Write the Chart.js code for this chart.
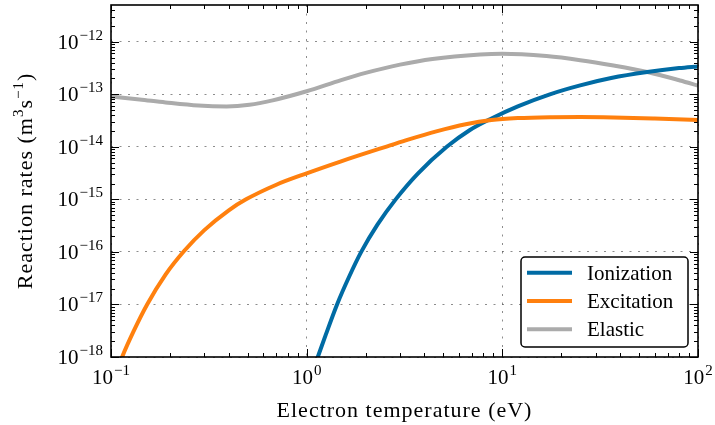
<!DOCTYPE html>
<html>
<head>
<meta charset="utf-8">
<script src="https://cdn.jsdelivr.net/npm/chart.js@4.4.0/dist/chart.umd.min.js"></script>
<style>
  body { margin: 0; background: #fff; }
  #wrap { width: 715px; height: 425px; }
</style>
</head>
<body>
<div id="wrap"><canvas id="myChart" width="715" height="425"></canvas></div>
<script>
// electron temperature (eV) and rate coefficients (m^3 s^-1)
const ionT    = [1.1, 1.14, 1.25, 1.43, 1.65, 1.9, 2.3, 2.85, 3.7, 5.2, 6.8, 8.8, 12, 17.5, 25, 36, 55, 80, 100];
const ionRate = [6.9e-19, 1e-18, 2.6e-18, 1e-17, 3.4e-17, 1e-16, 3.3e-16, 1e-15, 3.1e-15, 1e-14, 2.07e-14, 3.47e-14, 5.9e-14, 1e-13, 1.48e-13, 2.04e-13, 2.65e-13, 3.15e-13, 3.39e-13];

const excT    = [0.11, 0.114, 0.13, 0.153, 0.19, 0.237, 0.3, 0.4, 0.49, 0.7, 1, 1.5, 2.1, 2.56, 3.3, 4.6, 6.5, 8.8, 12, 18, 25, 37, 60, 100];
const excRate = [7e-19, 1e-18, 3e-18, 1e-17, 3.7e-17, 1.05e-16, 2.6e-16, 6.2e-16, 1e-15, 1.9e-15, 3.13e-15, 5.3e-15, 8.0e-15, 1.01e-14, 1.37e-14, 1.97e-14, 2.69e-14, 3.23e-14, 3.52e-14, 3.67e-14, 3.7e-14, 3.63e-14, 3.46e-14, 3.25e-14];

const elaT    = [0.1, 0.14, 0.19, 0.28, 0.39, 0.51, 0.67, 1, 1.5, 2, 3, 4.4, 7.7, 10, 16.8, 25, 37, 55, 81, 100];
const elaRate = [9.1e-14, 7.98e-14, 7.0e-14, 6.1e-14, 5.86e-14, 6.3e-14, 7.66e-14, 1.14e-13, 1.86e-13, 2.55e-13, 3.67e-13, 4.71e-13, 5.73e-13, 5.92e-13, 5.33e-13, 4.46e-13, 3.52e-13, 2.65e-13, 1.83e-13, 1.46e-13];

const seriesLabels = ['Ionization', 'Excitation', 'Elastic'];
const seriesColors = ['#006BA4', '#FF800E', '#ABABAB'];

// decade exponents used for ticks and their labels
const xExponents = [-1, 0, 1, 2];
const yExponents = [-18, -17, -16, -15, -14, -13, -12];
const xMin = 0.1, xMax = 100, yMin = 1e-18, yMax = 5e-12;

const SERIF = '"Liberation Serif", "DejaVu Serif", serif';

function decadeTicks(exps, max) {
  const out = [];
  exps.forEach(e => {
    for (let k = 1; k <= 9; k++) {
      const v = k * Math.pow(10, e);
      if (v <= max * 1.0001) out.push({ value: v, major: k === 1 });
    }
  });
  return out;
}

function pts(xs, ys) {
  return xs.map((x, i) => ({ x: x, y: ys[i] }));
}

// draws "10" with a raised exponent; align is 'right' or 'center'
function drawPower(ctx, exp, x, baseline, align) {
  const base = '10';
  const sup = (exp < 0 ? '\u2212' : '') + Math.abs(exp);
  ctx.font = '21px ' + SERIF;
  const wb = ctx.measureText(base).width;
  ctx.font = '15px ' + SERIF;
  const ws = ctx.measureText(sup).width;
  const total = wb + 1 + ws;
  const x0 = align === 'right' ? x - total : x - total / 2;
  ctx.textAlign = 'left';
  ctx.textBaseline = 'alphabetic';
  ctx.font = '21px ' + SERIF;
  ctx.fillText(base, x0, baseline);
  ctx.font = '15px ' + SERIF;
  ctx.fillText(sup, x0 + wb + 1, baseline - 9);
}

const decorations = {
  id: 'decorations',
  afterDraw(chart) {
    const ctx = chart.ctx;
    const a = chart.chartArea;
    const xs = chart.scales.x, ys = chart.scales.y;
    ctx.save();
    ctx.fillStyle = '#000';
    ctx.strokeStyle = '#000';

    // inward tick marks on all four sides
    ctx.lineWidth = 1;
    ctx.beginPath();
    xs.ticks.forEach(t => {
      const px = Math.round(xs.getPixelForValue(t.value)) + 0.5;
      const len = t.major ? 8 : 4;
      ctx.moveTo(px, a.bottom); ctx.lineTo(px, a.bottom - len);
      ctx.moveTo(px, a.top); ctx.lineTo(px, a.top + len);
    });
    ys.ticks.forEach(t => {
      const py = Math.round(ys.getPixelForValue(t.value)) + 0.5;
      const len = t.major ? 8 : 4;
      ctx.moveTo(a.left, py); ctx.lineTo(a.left + len, py);
      ctx.moveTo(a.right, py); ctx.lineTo(a.right - len, py);
    });
    ctx.stroke();

    // frame
    ctx.lineWidth = 1.6;
    ctx.strokeRect(a.left, a.top, a.right - a.left, a.bottom - a.top);

    // tick labels
    yExponents.forEach(e => {
      const py = ys.getPixelForValue(Math.pow(10, e));
      drawPower(ctx, e, a.left - 8, py + 7, 'right');
    });
    xExponents.forEach(e => {
      const px = xs.getPixelForValue(Math.pow(10, e));
      drawPower(ctx, e, px, a.bottom + 26.5, 'center');
    });

    // axis titles
    ctx.font = '22px ' + SERIF;
    ctx.letterSpacing = '1px';
    ctx.textAlign = 'center';
    ctx.textBaseline = 'alphabetic';
    ctx.fillText('Electron temperature (eV)', (a.left + a.right) / 2, 416.5);

    const parts = [
      ['Reaction rates (m', false], ['3', true], ['s', false], ['\u22121', true], [')', false]
    ];
    let total = 0;
    parts.forEach(p => {
      ctx.font = (p[1] ? '15px ' : '22px ') + SERIF;
      p.push(ctx.measureText(p[0]).width);
      total += p[2];
    });
    ctx.save();
    ctx.translate(32, (a.top + a.bottom) / 2);
    ctx.rotate(-Math.PI / 2);
    ctx.textAlign = 'left';
    let cx = -total / 2;
    parts.forEach(p => {
      ctx.font = (p[1] ? '15px ' : '22px ') + SERIF;
      ctx.fillText(p[0], cx, p[1] ? -9 : 0);
      cx += p[2];
    });
    ctx.restore();
    ctx.letterSpacing = '0px';

    // legend box
    const lx = 521, ly = 257, lw = 167, lh = 90;
    ctx.beginPath();
    ctx.roundRect(lx, ly, lw, lh, 4);
    ctx.fillStyle = '#fff';
    ctx.fill();
    ctx.lineWidth = 1.5;
    ctx.strokeStyle = '#000';
    ctx.stroke();
    chart.data.datasets.forEach((ds, i) => {
      const ry = 272.7 + i * 28.3;
      ctx.beginPath();
      ctx.lineWidth = 4;
      ctx.strokeStyle = ds.borderColor;
      ctx.moveTo(527, ry);
      ctx.lineTo(572, ry);
      ctx.stroke();
      ctx.fillStyle = '#000';
      ctx.font = '21px ' + SERIF;
      ctx.textAlign = 'left';
      ctx.fillText(ds.label, 587, ry + 7);
    });
    ctx.restore();
  }
};

const data = {
  datasets: [
    { label: seriesLabels[0], data: pts(ionT, ionRate), borderColor: seriesColors[0], order: 1 },
    { label: seriesLabels[1], data: pts(excT, excRate), borderColor: seriesColors[1], order: 0 },
    { label: seriesLabels[2], data: pts(elaT, elaRate), borderColor: seriesColors[2], order: 2 }
  ]
};

const gridColor = c => (c.tick && c.tick.major) ? 'rgba(0,0,0,0.45)' : 'rgba(0,0,0,0)';

const config = {
  type: 'line',
  data,
  options: {
    responsive: false,
    animation: false,
    devicePixelRatio: 1,
    layout: { padding: { left: 0, right: 17, top: 5, bottom: 0 } },
    elements: {
      line: { borderWidth: 4, cubicInterpolationMode: 'monotone', borderCapStyle: 'butt', fill: false },
      point: { radius: 0, hoverRadius: 0 }
    },
    datasets: { line: { clip: 0 } },
    scales: {
      x: {
        type: 'logarithmic',
        min: xMin,
        max: xMax,
        afterBuildTicks: s => { s.ticks = decadeTicks(xExponents, xMax); },
        afterFit: s => { s.height = 68; },
        ticks: { display: false },
        border: { display: false, dash: [2, 6.5] },
        grid: { color: gridColor, lineWidth: 1, drawTicks: false }
      },
      y: {
        type: 'logarithmic',
        min: yMin,
        max: yMax,
        afterBuildTicks: s => { s.ticks = decadeTicks(yExponents, yMax * 0.999); },
        afterFit: s => { s.width = 111; },
        ticks: { display: false },
        border: { display: false, dash: [2, 6.5] },
        grid: { color: gridColor, lineWidth: 1, drawTicks: false }
      }
    },
    plugins: {
      legend: { display: false },
      tooltip: { enabled: false }
    }
  },
  plugins: [decorations]
};

const myChart = new Chart(document.getElementById('myChart'), config);
</script>
</body>
</html>
